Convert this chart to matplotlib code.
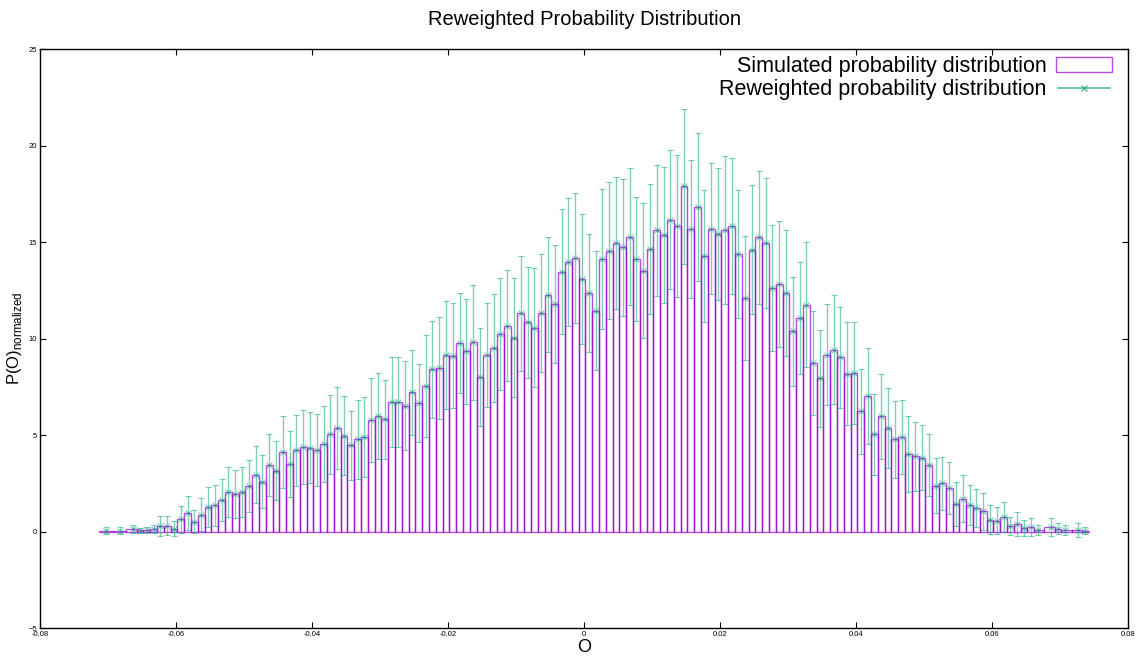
import numpy as np
import matplotlib
matplotlib.use('Agg')
import matplotlib.pyplot as plt
from matplotlib.patches import Patch
from matplotlib.legend_handler import HandlerErrorbar

plt.rcParams['font.family'] = ['Liberation Sans', 'DejaVu Sans']

# bin centres (O) of the histogram, empty bins left out
o_values = [
    -0.0703, -0.0683, -0.0663, -0.0653, -0.0643, -0.0633, -0.0623, -0.0613,
    -0.0603, -0.0593, -0.0583, -0.0573, -0.0563, -0.0553, -0.0543, -0.0533,
    -0.0523, -0.0513, -0.0503, -0.0493, -0.0483, -0.0473, -0.0463, -0.0453,
    -0.0443, -0.0433, -0.0423, -0.0413, -0.0403, -0.0393, -0.0383, -0.0373,
    -0.0363, -0.0353, -0.0343, -0.0333, -0.0323, -0.0313, -0.0303, -0.0293,
    -0.0283, -0.0273, -0.0263, -0.0253, -0.0243, -0.0233, -0.0223, -0.0213,
    -0.0203, -0.0193, -0.0183, -0.0173, -0.0163, -0.0153, -0.0143, -0.0133,
    -0.0123, -0.0113, -0.0103, -0.0093, -0.0083, -0.0073, -0.0063, -0.0053,
    -0.0043, -0.0033, -0.0023, -0.0013, -0.0003, 0.0007, 0.0017, 0.0027,
    0.0037, 0.0047, 0.0057, 0.0067, 0.0077, 0.0087, 0.0097, 0.0107,
    0.0117, 0.0127, 0.0137, 0.0147, 0.0157, 0.0167, 0.0177, 0.0187,
    0.0197, 0.0207, 0.0217, 0.0227, 0.0237, 0.0247, 0.0257, 0.0267,
    0.0277, 0.0287, 0.0297, 0.0307, 0.0317, 0.0327, 0.0337, 0.0347,
    0.0357, 0.0367, 0.0377, 0.0387, 0.0397, 0.0407, 0.0417, 0.0427,
    0.0437, 0.0447, 0.0457, 0.0467, 0.0477, 0.0487, 0.0497, 0.0507,
    0.0517, 0.0527, 0.0537, 0.0547, 0.0557, 0.0567, 0.0577, 0.0587,
    0.0597, 0.0607, 0.0617, 0.0627, 0.0637, 0.0647, 0.0657, 0.0667,
    0.0687, 0.0697, 0.0707, 0.0727, 0.0737,
]

# simulated histogram heights (also the reweighted points)
p_sim = [
    0.05, 0.05, 0.12, 0.06, 0.07, 0.12, 0.28, 0.30,
    0.15, 0.64, 0.95, 0.50, 0.88, 1.26, 1.35, 1.64,
    2.05, 1.95, 2.04, 2.37, 2.95, 2.59, 3.44, 3.16,
    4.10, 3.49, 4.20, 4.37, 4.34, 4.23, 4.54, 5.04,
    5.35, 4.97, 4.46, 4.77, 4.89, 5.79, 5.99, 5.82,
    6.70, 6.70, 6.51, 7.22, 6.67, 7.53, 8.40, 8.47,
    9.15, 9.12, 9.77, 9.33, 9.81, 8.01, 9.15, 9.50,
    10.22, 10.67, 10.05, 11.30, 10.83, 10.57, 11.33, 12.26,
    11.78, 13.47, 13.96, 14.16, 13.10, 12.35, 11.45, 14.13,
    14.56, 14.96, 14.73, 15.28, 14.13, 13.51, 14.63, 15.60,
    15.37, 16.15, 15.85, 17.88, 15.66, 16.80, 14.28, 15.70,
    15.42, 15.63, 15.84, 14.37, 12.10, 14.61, 15.25, 14.96,
    12.61, 12.83, 12.38, 10.37, 11.06, 11.76, 8.72, 7.94,
    9.15, 9.41, 9.02, 8.17, 8.20, 6.22, 7.03, 5.03,
    5.97, 5.37, 4.77, 4.92, 4.02, 3.89, 3.83, 3.45,
    2.37, 2.50, 2.26, 1.45, 1.69, 1.38, 1.21, 1.05,
    0.62, 0.57, 0.74, 0.29, 0.40, 0.19, 0.22, 0.09,
    0.22, 0.15, 0.09, 0.09, 0.05,
]

# error of the reweighted distribution
p_err = [
    0.17, 0.17, 0.20, 0.14, 0.17, 0.20, 0.53, 0.50,
    0.40, 0.70, 0.89, 0.60, 0.87, 1.04, 1.04, 1.10,
    1.30, 1.24, 1.28, 1.35, 1.46, 1.36, 1.62, 1.55,
    1.86, 1.71, 1.82, 1.93, 1.84, 1.87, 1.98, 2.05,
    2.13, 2.05, 1.79, 2.03, 2.07, 2.19, 2.22, 2.04,
    2.34, 2.34, 2.31, 2.20, 2.01, 2.63, 2.50, 2.62,
    2.81, 2.71, 2.60, 2.72, 2.97, 2.52, 2.70, 2.81,
    2.90, 2.87, 3.07, 2.97, 2.85, 3.06, 3.06, 2.98,
    3.04, 3.25, 3.30, 3.37, 3.37, 3.07, 3.08, 3.63,
    3.55, 3.42, 3.54, 3.54, 3.22, 3.49, 3.36, 3.39,
    3.52, 3.60, 3.68, 4.00, 3.57, 3.83, 3.40, 3.37,
    3.44, 3.82, 3.53, 3.31, 3.20, 3.32, 3.45, 3.38,
    3.26, 3.25, 3.26, 2.81, 2.90, 3.22, 2.70, 2.50,
    2.62, 2.82, 2.62, 2.66, 2.63, 2.18, 2.50, 2.08,
    2.21, 2.07, 2.01, 1.92, 1.95, 1.77, 1.68, 1.61,
    1.42, 1.36, 1.34, 1.14, 1.22, 1.05, 0.97, 0.96,
    0.77, 0.72, 0.77, 0.47, 0.63, 0.42, 0.47, 0.26,
    0.46, 0.30, 0.26, 0.35, 0.17,
]

purple = '#9400d3'
green = '#009e73'

o = np.array(o_values)
# boxes extend until they touch their neighbours (gnuplot style)
mid = (o[1:] + o[:-1]) / 2
edges = np.concatenate([[o[0] - (mid[0] - o[0])], mid, [o[-1] + (o[-1] - mid[-1])]])

fig = plt.figure(figsize=(11.4, 6.57), dpi=100)
ax = fig.add_axes([0.0351, 0.0441, 0.9544, 0.8813])

ax.bar(edges[:-1], p_sim, width=np.diff(edges), align='edge',
       facecolor='none', edgecolor=purple, linewidth=1.0, alpha=0.7)
ax.errorbar(o, p_sim, yerr=p_err, fmt='x', color=green, ecolor=green,
            markersize=4, markeredgewidth=0.8, elinewidth=1.0, capsize=2,
            capthick=1.0, alpha=0.5)

ax.set_xlim(-0.08, 0.08)
ax.set_ylim(-5, 25)
ax.set_xticks(np.arange(-0.08, 0.0801, 0.02))
ax.set_xticklabels(['-0.08', '-0.06', '-0.04', '-0.02', '0', '0.02', '0.04', '0.06', '0.08'])
ax.set_yticks([-5, 0, 5, 10, 15, 20, 25])
ax.tick_params(direction='in', length=4, width=0.8, labelsize=5.5,
               top=True, right=True, pad=2)
for s in ax.spines.values():
    s.set_linewidth(1.0)

ax.set_title('Reweighted Probability Distribution', fontsize=14.5, pad=17)
ax.set_xlabel('O', fontsize=13, labelpad=1)
ax.set_ylabel('P(O)$_{\\mathregular{normalized}}$', fontsize=12, labelpad=3)

# legend samples: outlined box and a horizontal error bar with an x
h1 = Patch(facecolor='none', edgecolor=purple, alpha=0.7)
h2 = ax.errorbar([], [], xerr=[], fmt='x', color=green, markersize=4,
                 elinewidth=1.2, capsize=2.5, alpha=0.65)
leg = ax.legend([h1, h2], ['Simulated probability distribution',
                           'Reweighted probability distribution'],
                handler_map={type(h2): HandlerErrorbar(xerr_size=1.25)},
                loc='upper right', bbox_to_anchor=(0.9945, 1.005),
                frameon=False, markerfirst=False,
                fontsize=15.5, handlelength=2.6, handletextpad=0.45,
                labelspacing=0.12, borderaxespad=0.25, borderpad=0.2)

fig.savefig('out.png', dpi=100)
